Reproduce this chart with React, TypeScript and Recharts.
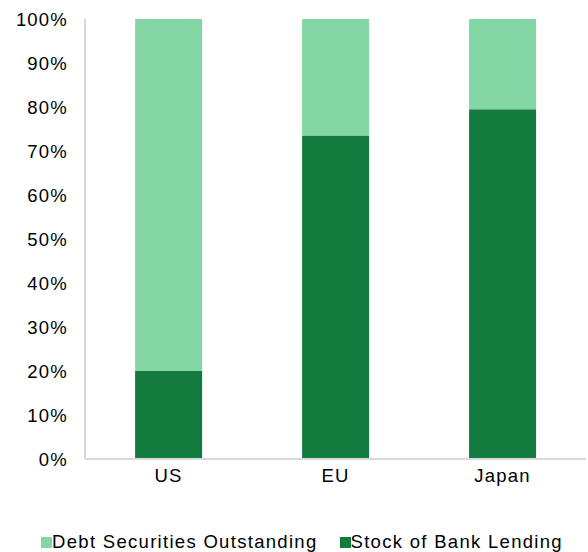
import React from 'react';
import { BarChart, Bar, XAxis, YAxis, Legend } from 'recharts';

const regions = ['US', 'EU', 'Japan'];
const bankLending = [20, 73.5, 79.5];
const debtSecurities = [80, 26.5, 20.5];
const yTicks = [0, 10, 20, 30, 40, 50, 60, 70, 80, 90, 100];

const DARK = '#147B3E';
const LIGHT = '#84D7A4';
const FONT = '"Liberation Sans", Arial, sans-serif';

const data = regions.map((region, i) => ({
  region,
  bank: bankLending[i],
  debt: debtSecurities[i]
}));

const legendItems = [
  { label: 'Debt Securities Outstanding', color: LIGHT },
  { label: 'Stock of Bank Lending', color: DARK }
];

function ChartLegend() {
  return (
    <div
      style={{
        display: 'flex',
        justifyContent: 'center',
        gap: 22,
        paddingTop: 36,
        paddingLeft: 3,
        fontFamily: FONT,
        fontSize: 18.5,
        letterSpacing: 1.3,
        color: '#000'
      }}
    >
      {legendItems.map((item) => (
        <div key={item.label} style={{ display: 'flex', alignItems: 'center', gap: 0 }}>
          <span style={{ width: 11, height: 11, background: item.color, display: 'inline-block' }} />
          <span>{item.label}</span>
        </div>
      ))}
    </div>
  );
}

const tickStyle = { fill: '#000', fontSize: 18.5, fontFamily: FONT, letterSpacing: 1.2 };

export default function App() {
  return (
    <div style={{ position: 'absolute', left: 0, top: 0, background: '#fff' }}>
      <BarChart
        width={588}
        height={552}
        data={data}
        margin={{ top: 19, right: 2, bottom: 0, left: 15 }}
        barCategoryGap="30%"
      >
        <XAxis
          dataKey="region"
          axisLine={{ stroke: '#d9d9d9', strokeWidth: 2 }}
          tickLine={false}
          tick={tickStyle}
          tickMargin={4}
          height={36}
        />
        <YAxis
          domain={[0, 100]}
          ticks={yTicks}
          interval={0}
          width={70}
          axisLine={{ stroke: '#d9d9d9', strokeWidth: 2 }}
          tickLine={false}
          tickSize={0}
          tickMargin={17}
          tickFormatter={(v) => `${v}%`}
          tick={tickStyle}
        />
        <Legend verticalAlign="bottom" height={57} content={() => <ChartLegend />} />
        <Bar dataKey="bank" stackId="a" fill={DARK} isAnimationActive={false} />
        <Bar dataKey="debt" stackId="a" fill={LIGHT} isAnimationActive={false} />
      </BarChart>
    </div>
  );
}
